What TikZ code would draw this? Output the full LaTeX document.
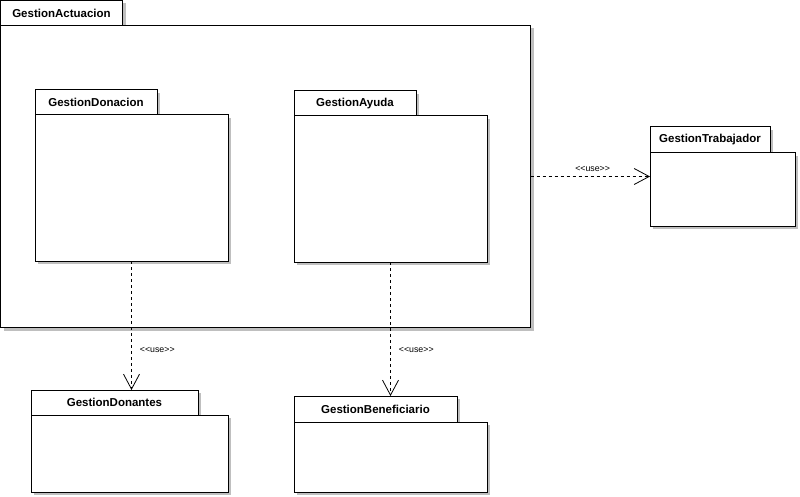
\documentclass[tikz,border=0pt]{standalone}
\usepackage{fontspec}
\setmainfont{Liberation Sans}
\usetikzlibrary{shadows,arrows.meta}
\tikzset{
  pkgbox/.style={draw=black, fill=white, line width=1pt, inner sep=0pt, outer sep=0pt,
    anchor=north west,
    drop shadow={shadow xshift=3pt, shadow yshift=-3pt, fill=black, opacity=0.25}},
  pkgtab/.style={pkgbox, font=\bfseries\fontsize{11.5}{13}\selectfont},
  dep/.style={draw, line width=0.8pt, dash pattern=on 3pt off 3pt,
    -{Straight Barb[length=15pt,width=16pt,line width=0.8pt]}},
  uselbl/.style={font=\fontsize{8.8}{10}\selectfont, inner sep=1pt}
}
\newcommand\umlpkg[8]{%
  \node[pkgtab, minimum width=#4pt, minimum height=#5pt] (#1t) at (#2,#3) {#8};
  \node[pkgbox, minimum width=#6pt, minimum height=#7pt] (#1) at (#1t.south west) {};
}
\newcommand\uselabel{<\kern0pt<use>\kern0pt>}
\begin{document}
\begin{tikzpicture}[x=1pt,y=-1pt]
  \useasboundingbox (0,0) rectangle (800,497);
  \umlpkg{act}{0.5}{0.5}{122}{25}{530}{302}{GestionActuacion}
  \umlpkg{don}{35}{90}{122}{25}{193}{146}{GestionDonacion}
  \umlpkg{ayu}{294}{91}{122}{25}{193}{146}{GestionAyuda}
  \umlpkg{trab}{650}{127}{120}{26}{145}{73}{GestionTrabajador}
  \umlpkg{dnt}{31}{390}{167}{25}{197}{77}{GestionDonantes}
  \umlpkg{ben}{294}{396}{163}{26}{193}{70}{GestionBeneficiario}

  \draw[dep] (don.south) -- (don.south |- dntt.north)
    node[uselbl, pos=0.69, right=7pt] {\uselabel};
  \draw[dep] (ayu.south) -- (ayu.south |- bent.north)
    node[uselbl, pos=0.66, right=7pt] {\uselabel};
  \draw[dep] (act.east) -- (act.east -| trab.west)
    node[uselbl, pos=0.52, above=4pt] {\uselabel};
\end{tikzpicture}
\end{document}
